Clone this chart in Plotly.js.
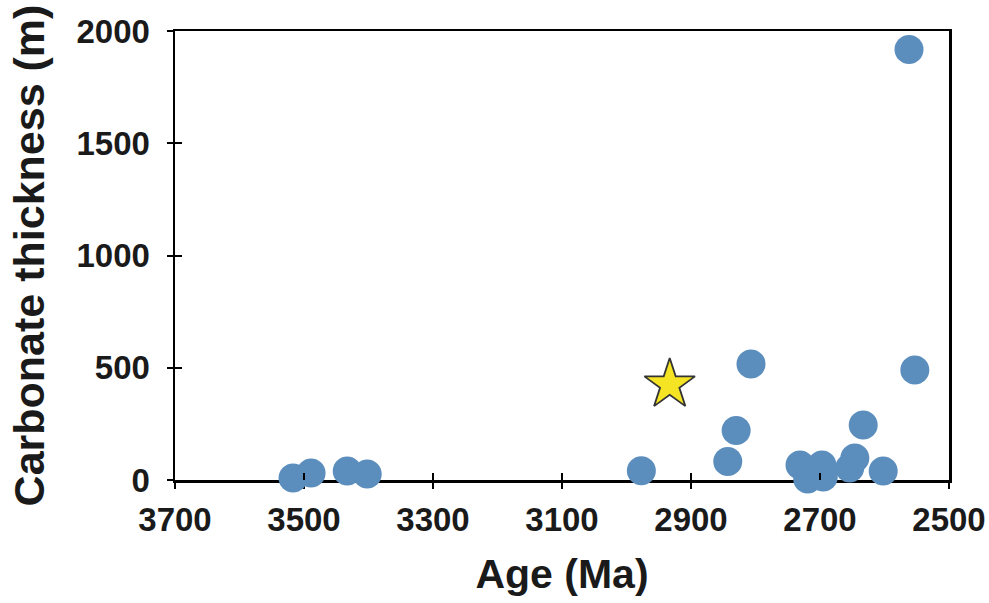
<!DOCTYPE html>
<html>
<head>
<meta charset="utf-8">
<script src="https://cdn.plot.ly/plotly-3.0.1.min.js"></script>
<style>
  html, body { margin: 0; padding: 0; background: #ffffff; }
  #chart { width: 989px; height: 603px; }
</style>
</head>
<body>
<div id="chart"></div>
<script>
// Carbonate platform thickness versus age (Archean)
const ageMa = [3517, 3489, 3433, 3402, 2977, 2843, 2830, 2807, 2731, 2719,
               2697, 2695, 2654, 2646, 2633, 2602, 2562, 2553];
const thicknessM = [9, 31, 40, 27, 41, 82, 220, 517, 67, 5,
                    67, 13, 53, 98, 245, 40, 1918, 490];

// Highlighted locality (star)
const starAge = [2933];
const starThickness = [425];

const xTicks = [3700, 3500, 3300, 3100, 2900, 2700, 2500];
const yTicks = [0, 500, 1000, 1500, 2000];

const FONT = 'Liberation Sans, Arial, Helvetica, sans-serif';

const traces = [
  {
    type: 'scatter', mode: 'markers',
    x: ageMa, y: thicknessM,
    cliponaxis: false,
    marker: { size: 29, color: '#5b8dbd', line: { width: 0 } },
    hoverinfo: 'x+y'
  },
  {
    type: 'scatter', mode: 'markers',
    x: starAge, y: starThickness,
    cliponaxis: false,
    marker: { symbol: 'star', size: 38, color: '#f5e424',
              line: { width: 1.8, color: '#333333' } },
    hoverinfo: 'x+y'
  },
  // empty trace so the overlay axes (inner half of the crossing ticks) are drawn
  { type: 'scatter', mode: 'markers', x: [], y: [], xaxis: 'x2', yaxis: 'y2',
    hoverinfo: 'skip' }
];

const axisCommon = {
  showgrid: false, zeroline: false,
  linecolor: '#000000', linewidth: 2.5,
  ticks: 'outside', ticklen: 6, tickwidth: 2, tickcolor: '#000000',
  tickfont: { family: FONT, size: 33, color: '#1a1a1a', weight: 'bold' },
  layer: 'below traces'
};

const layout = {
  width: 989, height: 603,
  margin: { l: 175, r: 40, t: 31, b: 123 },
  paper_bgcolor: '#ffffff', plot_bgcolor: '#ffffff',
  showlegend: false,
  xaxis: Object.assign({}, axisCommon, {
    range: [3700, 2500], tickvals: xTicks, ticktext: xTicks.map(String),
    showline: true, mirror: true,
    ticklabelstandoff: 3,
    title: { text: 'Age (Ma)', standoff: 22,
             font: { family: FONT, size: 41, color: '#1a1a1a', weight: 'bold' } }
  }),
  yaxis: Object.assign({}, axisCommon, {
    range: [0, 2000], tickvals: yTicks, ticktext: yTicks.map(String),
    showline: true, mirror: true,
    ticklabelstandoff: 10,
    title: { text: 'Carbonate thickness (m)', standoff: 19,
             font: { family: FONT, size: 43, color: '#1a1a1a', weight: 'bold' } }
  }),
  xaxis2: {
    overlaying: 'x', anchor: 'y2', side: 'bottom',
    range: [3700, 2500], tickvals: xTicks,
    showticklabels: false, showline: false, showgrid: false, zeroline: false,
    ticks: 'inside', ticklen: 7, tickwidth: 2, tickcolor: '#000000'
  },
  yaxis2: {
    overlaying: 'y', anchor: 'x2', side: 'left',
    range: [0, 2000], tickvals: yTicks,
    showticklabels: false, showline: false, showgrid: false, zeroline: false,
    ticks: 'inside', ticklen: 7, tickwidth: 2, tickcolor: '#000000'
  }
};

Plotly.newPlot('chart', traces, layout, { displayModeBar: false, staticPlot: true });
</script>
</body>
</html>
